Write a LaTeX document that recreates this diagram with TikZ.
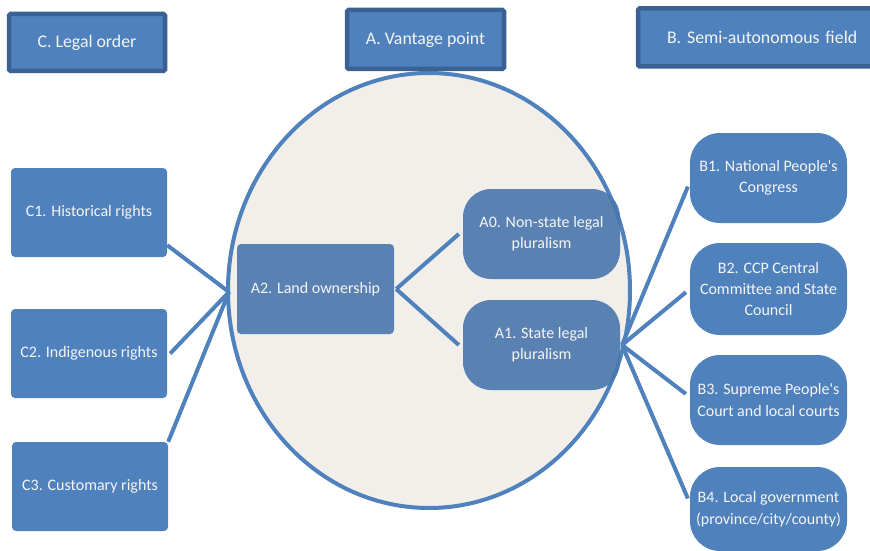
\documentclass[tikz,border=0pt]{standalone}
\usepackage{fontspec}
\setmainfont{Carlito}
\usetikzlibrary{shapes.geometric}
\definecolor{blu}{HTML}{4F81BD}
\definecolor{dblu}{HTML}{3A6191}
\definecolor{bg}{HTML}{F2EFEA}
\definecolor{txt}{HTML}{F5F5F5}
\begin{document}
\begin{tikzpicture}[x=1pt,y=-1pt,
  hdr/.style={draw=dblu, line width=4.5pt, fill=blu, rounded corners=1.5pt, text=txt,
    font=\fontsize{17.8}{20}\selectfont, inner sep=0pt},
  cbox/.style={fill=blu, rounded corners=4pt, text=txt, align=center,
    font=\fontsize{16}{21}\selectfont, inner sep=0pt, minimum width=156pt, minimum height=89pt},
  abox/.style={fill=blu!92!black, fill opacity=0.9, text opacity=1, text=txt, align=center,
    font=\fontsize{16}{21}\selectfont, inner sep=0pt, minimum width=157pt, minimum height=90pt},
  bbox/.style={fill=blu, rounded corners=30pt, text=txt, align=center,
    font=\fontsize{16}{21}\selectfont, inner sep=0pt, minimum width=157pt, minimum height=90pt},
  conn/.style={draw=blu, line width=4pt}]
\clip (0,0) rectangle (870,551);
\fill[white] (0,0) rectangle (870,551);

% vantage ellipse
\node[draw=blu, line width=4pt, fill=bg, ellipse, minimum width=402pt, minimum height=435pt, inner sep=0pt] (ell) at (429,290.5) {};

% headers
\node[hdr, minimum width=156pt, minimum height=57pt] (hc) at (87,42.5) {C. Legal order};
\node[hdr, minimum width=157pt, minimum height=59pt] (ha) at (425.5,39.5) {A. Vantage point};
\node[hdr, minimum width=242pt, minimum height=58pt, text width=236pt, align=left] (hb) at (759,37.5) {\hspace*{26pt}B. Semi-autonomous field};

% left junction and right junction
\coordinate (jl) at (229,292);
\coordinate (jr) at (622,345);

% C boxes
\node[cbox] (c1) at (89,212.5) {C1. Historical rights};
\node[cbox] (c2) at (89,353.5) {C2. Indigenous rights};
\node[cbox] (c3) at (90,486.5) {C3. Customary rights};

% A boxes
\node[abox, rounded corners=4pt] (a2) at (315.5,289) {A2. Land ownership};
\node[abox, rounded corners=28pt] (a0) at (541.5,234) {A0. Non-state legal\\pluralism};
\node[abox, rounded corners=28pt] (a1) at (541.5,345) {A1. State legal\\pluralism};

% B boxes
\node[bbox] (b1) at (768.5,178) {B1. National People\textquotesingle s\\Congress};
\node[bbox, minimum height=92pt] (b2) at (768.5,289) {B2. CCP Central\\Committee and State\\Council};
\node[bbox] (b3) at (768.5,400) {B3. Supreme People\textquotesingle s\\Court and local courts};
\node[bbox, minimum height=84pt, font=\fontsize{16}{22}\selectfont] (b4) at (768.5,509) {B4. Local government\\(province/city/county)};

% connectors
\draw[conn] ([yshift=12pt]c1.south east) -- (jl);
\draw[conn] ([xshift=3pt]c2.east) -- (jl);
\draw[conn] (c3.north east) -- (jl);
\draw[conn] ([xshift=2pt]a2.east) -- ([xshift=-4pt]a0.west);
\draw[conn] ([xshift=2pt]a2.east) -- ([xshift=-4pt]a1.west);
\draw[conn, shorten >=5pt] (jr) -- ([yshift=-4pt]b1.west);
\draw[conn, shorten >=5pt] (jr) -- (b2.west);
\draw[conn, shorten >=5pt] (jr) -- ([yshift=3pt]b3.west);
\draw[conn, shorten >=5pt] (jr) -- ([yshift=6pt]b4.west);
\end{tikzpicture}
\end{document}
